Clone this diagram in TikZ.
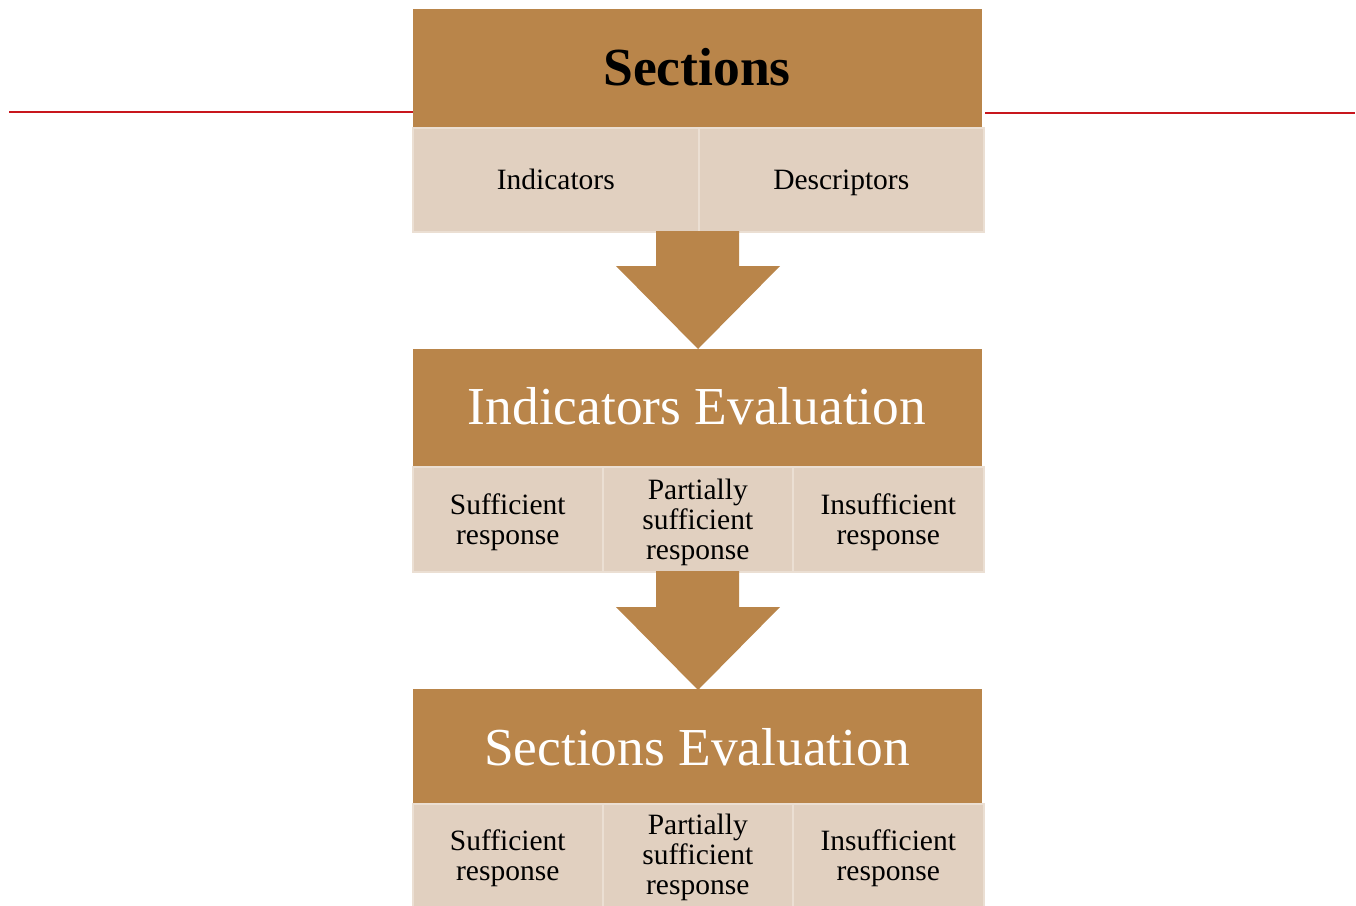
\documentclass[tikz,border=0pt]{standalone}
\usepackage{fontspec}
\setmainfont{Liberation Serif}
\definecolor{brown}{HTML}{B9854A}
\definecolor{tan}{HTML}{E1D0C0}
\definecolor{tanedge}{HTML}{EBDFD3}
\definecolor{redline}{HTML}{C8161D}
\tikzset{
  head/.style={fill=brown, draw=none, inner sep=0pt, anchor=north west},
  cell/.style={fill=tan, draw=tanedge, line width=1.5pt, inner sep=0pt, anchor=north west},
  celltext/.style={align=center, inner sep=0pt, font=\fontsize{29.5}{30}\selectfont},
  blockarrow/.style={fill=brown, draw=none},
  rule/.style={draw=redline, line width=1.6pt}
}
\begin{document}
\begin{tikzpicture}[x=1pt,y=-1pt]
\useasboundingbox (0,0) rectangle (1356,905);
% top block
\node[head, minimum width=569pt, minimum height=118pt] (h1) at (413,9) {};
\node[font=\fontsize{53.6}{60}\selectfont\bfseries, anchor=base] (t1) at (697,85) {Sections};
\node[cell, minimum width=286pt, minimum height=104pt] (c11) at (412,127) {};
\node[cell, minimum width=285pt, minimum height=104pt] (c12) at (698,127) {};
\node[celltext, anchor=base] (x11) at (c11.center |- 0,189) {Indicators};
\node[celltext, anchor=base] (x12) at (c12.center |- 0,189) {Descriptors};
% red lines
\coordinate (l0) at (9,112);
\coordinate (r1) at (1355,113);
\draw[rule] (l0) -- (h1.west |- l0);
\draw[rule] ([xshift=3pt]h1.east |- r1) -- (r1);
% arrow 1
\fill[blockarrow] (656,231) -- (739,231) -- (739,266) -- (780,266) -- (698,349) -- (616,266) -- (656,266) -- cycle;
% second block
\node[head, minimum width=569pt, minimum height=118pt] (h2) at (413,349) {};
\node[font=\fontsize{53.4}{58}\selectfont, text=white, anchor=base] (t2) at (697,424) {Indicators Evaluation};
\node[cell, minimum width=190pt, minimum height=105pt] (c21) at (412,466) {};
\node[cell, minimum width=190pt, minimum height=105pt] (c22) at (602,466) {};
\node[cell, minimum width=191pt, minimum height=105pt] (c23) at (792,466) {};
\node[celltext] (x21) at ([yshift=-3pt]c21.center) {Sufficient\\response};
\node[celltext] (x22) at ([yshift=-3pt]c22.center) {Partially\\sufficient\\response};
\node[celltext] (x23) at ([yshift=-3pt]c23.center) {Insufficient\\response};
% arrow 2
\fill[blockarrow] (656,571) -- (739,571) -- (739,607) -- (780,607) -- (698,690) -- (616,607) -- (656,607) -- cycle;
% third block
\node[head, minimum width=569pt, minimum height=115pt] (h3) at (413,689) {};
\node[font=\fontsize{53.4}{58}\selectfont, text=white, anchor=base] (t3) at (697,765) {Sections Evaluation};
\node[cell, minimum width=190pt, minimum height=110pt] (c31) at (412,803) {};
\node[cell, minimum width=190pt, minimum height=110pt] (c32) at (602,803) {};
\node[cell, minimum width=191pt, minimum height=110pt] (c33) at (792,803) {};
\node[celltext] (x31) at ([yshift=1pt]c31.center) {Sufficient\\response};
\node[celltext] (x32) at ([yshift=1pt]c32.center) {Partially\\sufficient\\response};
\node[celltext] (x33) at ([yshift=1pt]c33.center) {Insufficient\\response};
\end{tikzpicture}
\end{document}
